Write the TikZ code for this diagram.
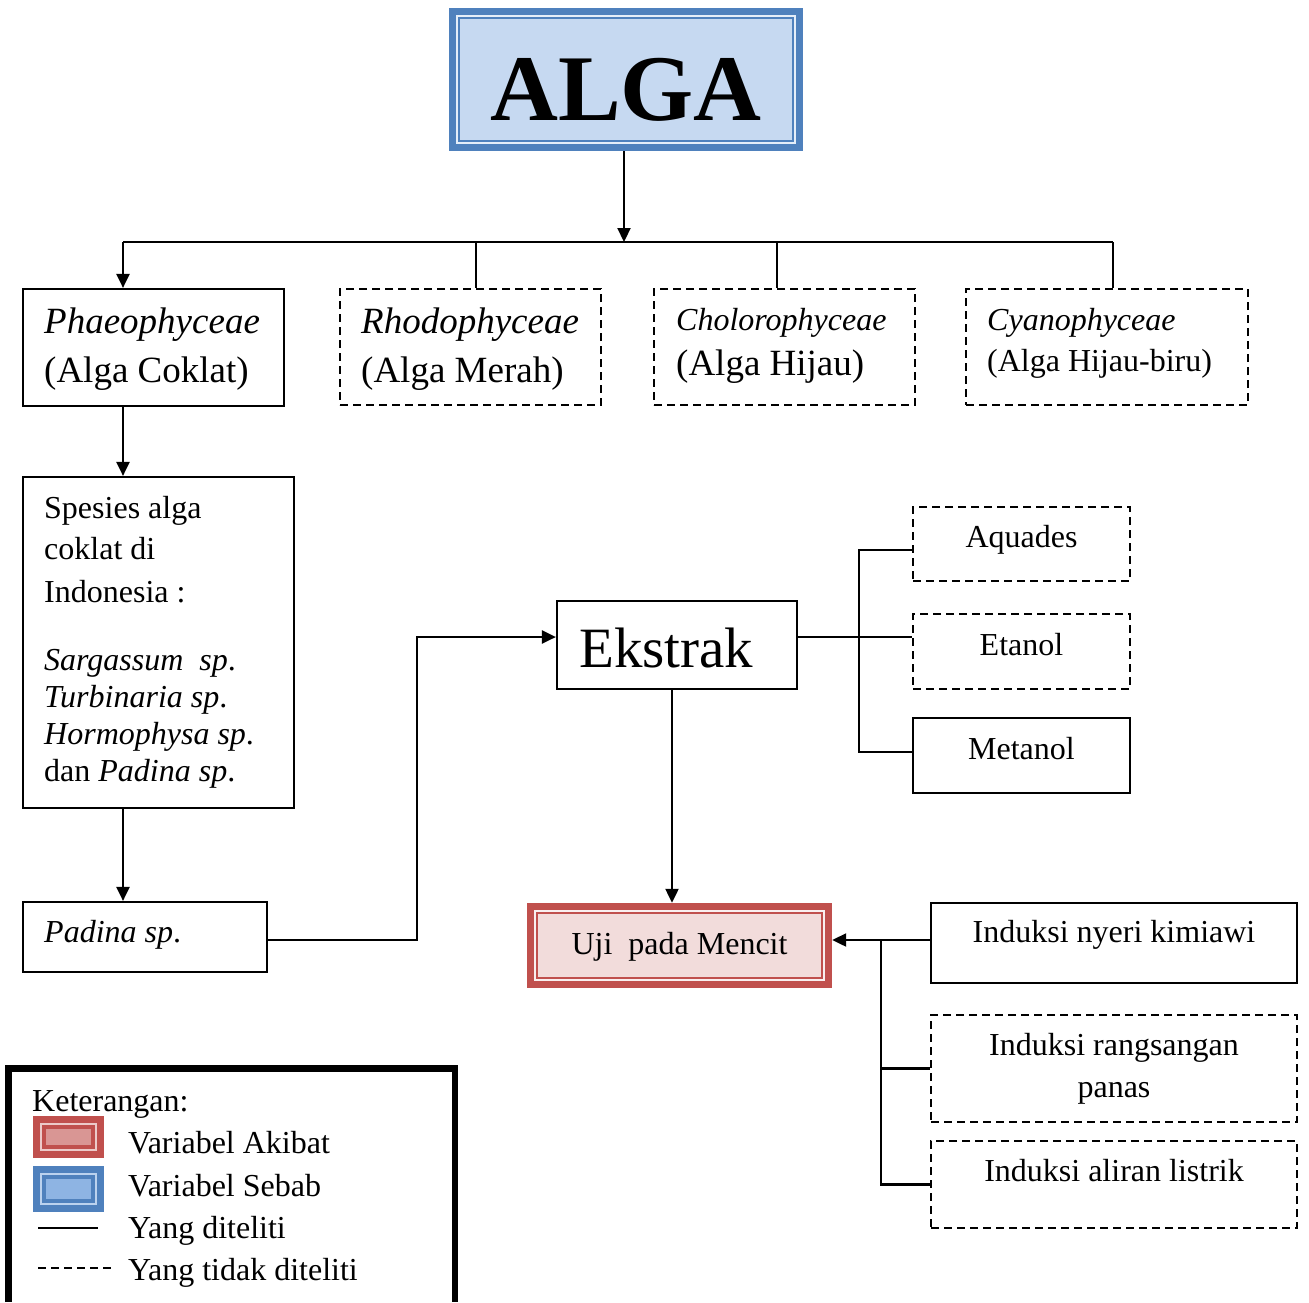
\documentclass[tikz,border=0pt]{standalone}
\usepackage{fontspec}
\setmainfont{Liberation Serif}
\usetikzlibrary{arrows.meta,calc}
\definecolor{bblue}{HTML}{4F81BD}
\definecolor{bfill}{HTML}{C6D9F1}
\definecolor{bswatch}{HTML}{8EB4E3}
\definecolor{rred}{HTML}{C0504D}
\definecolor{rfill}{HTML}{F2DCDB}
\definecolor{rswatch}{HTML}{D99694}
\newcommand\szA{\fontsize{37}{44}\selectfont}
\newcommand\szB{\fontsize{32}{38}\selectfont}
\newcommand\szE{\fontsize{57}{66}\selectfont}
\newcommand\szG{\fontsize{94}{110}\selectfont}
\tikzset{
  solidbox/.style={draw=black, line width=2.2pt, inner sep=0pt, fill=white},
  dashbox/.style={draw=black, line width=2.2pt, dash pattern=on 8pt off 5pt, inner sep=0pt, fill=white},
  conn/.style={line width=2.2pt},
  arr/.style={line width=2.2pt, -{Triangle[length=14pt,width=13pt]}},
  txt/.style={inner sep=0pt, anchor=base west},
  ctxt/.style={inner sep=0pt, anchor=base},
}
\begin{document}
\begin{tikzpicture}[x=1pt,y=-1pt]
\useasboundingbox (0,0) rectangle (1309,1302);
\fill[white] (0,0) rectangle (1309,1302);

% ---------- ALGA ----------
\node[fill=bblue, inner sep=0pt, minimum width=354, minimum height=143] (alga) at (626,79.5) {};
\fill[bfill] ($(alga.north west)+(7,7)$) rectangle ($(alga.south east)+(-7,-7)$);
\draw[white!55!bfill, line width=1.5pt] ($(alga.north west)+(8,8)$) rectangle ($(alga.south east)+(-8,-8)$);
\draw[bblue, line width=2pt] ($(alga.north west)+(10.5,10.5)$) rectangle ($(alga.south east)+(-10.5,-10.5)$);
\node[ctxt, font=\szG\bfseries] (algatxt) at (626,120) {ALGA};

% ---------- class boxes ----------
\node[solidbox, minimum width=261, minimum height=117] (phaeo) at (153.5,347.5) {};
\node[dashbox, minimum width=261, minimum height=116] (rhodo) at (470.5,347) {};
\node[dashbox, minimum width=261, minimum height=116] (cholo) at (784.5,347) {};
\node[dashbox, minimum width=282, minimum height=116] (cyano) at (1107,347) {};

\node[txt, font=\szA\itshape] (phaeo1) at (44,333) {Phaeophyceae};
\node[txt, font=\szA] (phaeo2) at (44,382) {(Alga Coklat)};
\node[txt, font=\szA\itshape] (rhodo1) at (361,333) {Rhodophyceae};
\node[txt, font=\szA] (rhodo2) at (361,382) {(Alga Merah)};
\node[txt, font=\szB\itshape] (cholo1) at (676,330) {Cholorophyceae};
\node[txt, font=\szA] (cholo2) at (676,375) {(Alga Hijau)};
\node[txt, font=\szB\itshape] (cyano1) at (987,330) {Cyanophyceae};
\node[txt, font=\szB] (cyano2) at (987,371) {(Alga Hijau-biru)};

% ---------- species ----------
\node[solidbox, minimum width=271, minimum height=331] (spesies) at (158.5,642.5) {};
\node[txt, font=\szB] (sp1) at (44,518) {Spesies alga};
\node[txt, font=\szB] (sp2) at (44,559) {coklat di};
\node[txt, font=\szB] (sp3) at (44,602) {Indonesia :};
\node[txt, font=\szB] (sp4) at (44,670) {\textit{Sargassum\ \ sp}.};
\node[txt, font=\szB] (sp5) at (44,707) {\textit{Turbinaria sp}.};
\node[txt, font=\szB] (sp6) at (44,744) {\textit{Hormophysa sp}.};
\node[txt, font=\szB] (sp7) at (44,781) {dan \textit{Padina sp}.};

\node[solidbox, minimum width=244, minimum height=70] (padina) at (145,937) {};
\node[txt, font=\szB] (padinatxt) at (44,942) {\textit{Padina sp}.};

% ---------- Ekstrak ----------
\node[solidbox, minimum width=240, minimum height=88] (ekstrak) at (677,645) {};
\node[txt, font=\szE] (ekstraktxt) at (579,667) {Ekstrak};

\node[dashbox, minimum width=217, minimum height=74] (aquades) at (1021.5,544) {};
\node[dashbox, minimum width=217, minimum height=75] (etanol) at (1021.5,651.5) {};
\node[solidbox, minimum width=217, minimum height=75] (metanol) at (1021.5,755.5) {};
\node[ctxt, font=\szB] (aqtxt) at (1021.5,547) {Aquades};
\node[ctxt, font=\szB] (ettxt) at (1021.5,655) {Etanol};
\node[ctxt, font=\szB] (metxt) at (1021.5,759) {Metanol};

% ---------- Uji ----------
\node[fill=rred, inner sep=0pt, minimum width=305, minimum height=85] (uji) at (679.5,945.5) {};
\fill[rfill] ($(uji.north west)+(7,7)$) rectangle ($(uji.south east)+(-7,-7)$);
\draw[white!55!rfill, line width=1.5pt] ($(uji.north west)+(8,8)$) rectangle ($(uji.south east)+(-8,-8)$);
\draw[rred, line width=2pt] ($(uji.north west)+(10.5,10.5)$) rectangle ($(uji.south east)+(-10.5,-10.5)$);
\node[ctxt, font=\szB] (ujitxt) at (679.5,954) {Uji\ \ pada Mencit};

% ---------- Induksi ----------
\node[solidbox, minimum width=366, minimum height=80] (nyeri) at (1114,943) {};
\node[dashbox, minimum width=366, minimum height=107] (panas) at (1114,1068.5) {};
\node[dashbox, minimum width=366, minimum height=87] (listrik) at (1114,1184.5) {};
\node[ctxt, font=\szB] (nyeritxt) at (1114,942) {Induksi nyeri kimiawi};
\node[ctxt, font=\szB] (panas1) at (1114,1055) {Induksi rangsangan};
\node[ctxt, font=\szB] (panas2) at (1114,1097) {panas};
\node[ctxt, font=\szB] (listriktxt) at (1114,1181) {Induksi aliran listrik};

% ---------- connectors ----------
\coordinate (busL) at (123,242);
\coordinate (busR) at (1113,242);
\coordinate (jR) at (476,242);
\coordinate (jC) at (777,242);
\draw[conn] (busL) -- (busR);
\draw[arr] ([xshift=-2pt]alga.south) -- ([xshift=-2pt]alga.south |- busL);
\draw[arr] (busL) -- (busL |- phaeo.north);
\draw[conn] (jR) -- (jR |- rhodo.north);
\draw[conn] (jC) -- (jC |- cholo.north);
\draw[conn] (busR) -- (busR |- cyano.north);
\draw[arr] (busL |- phaeo.south) -- (busL |- spesies.north);
\draw[arr] (busL |- spesies.south) -- (busL |- padina.north);

\coordinate (pOut) at ([yshift=-3pt]padina.east);
\coordinate (eIn) at ([yshift=8pt]ekstrak.west);
\coordinate (elb) at (417,0);
\draw[arr] (pOut) -- (pOut -| elb) -- (elb |- eIn) -- (eIn);

\coordinate (eOut) at ([yshift=8pt]ekstrak.east);
\coordinate (bx) at (859,0);
\coordinate (aqIn) at ([yshift=-6pt]aquades.west);
\coordinate (meIn) at ([yshift=3.5pt]metanol.west);
\draw[conn] (eOut) -- (eOut -| etanol.west);
\draw[conn] (aqIn) -- (aqIn -| bx) -- (meIn -| bx) -- (meIn);

\coordinate (ekDown) at ([xshift=-5pt]ekstrak.south);
\draw[arr] (ekDown) -- (ekDown |- uji.north);

\coordinate (nyOut) at ([yshift=3pt]nyeri.west);
\coordinate (by) at (881,0);
\draw[arr] (nyOut) -- (nyOut -| uji.east);
\draw[conn] (nyOut -| by) -- (listrik.west -| by) -- (listrik.west);
\draw[conn] (panas.west -| by) -- (panas.west);

% ---------- legend ----------
\draw[line width=6.5pt] (8.5,1302) -- (8.5,1068.5) -- (455,1068.5) -- (455,1302);
\node[txt, font=\szB] (ket) at (32,1111) {Keterangan:};
\fill[rred] (33,1116) rectangle (104,1158);
\draw[white!50!rswatch, line width=2pt] (41,1124) rectangle (96,1150);
\fill[rswatch] (46,1129) rectangle (91,1145);
\fill[bblue] (33,1166) rectangle (104,1212);
\draw[white!40!bswatch, line width=2pt] (41,1174) rectangle (96,1204);
\fill[bswatch] (46,1179) rectangle (91,1199);
\coordinate (ls1) at (38,1228);
\coordinate (le1) at (98,1228);
\draw[line width=2pt] (ls1) -- (le1);
\coordinate (ls2) at (38,1268);
\coordinate (le2) at (114,1268);
\draw[line width=2pt, dash pattern=on 8pt off 5pt] (ls2) -- (le2);
\node[txt, font=\szB] (lg1) at (128,1153) {Variabel Akibat};
\node[txt, font=\szB] (lg2) at (128,1196) {Variabel Sebab};
\node[txt, font=\szB] (lg3) at (128,1238) {Yang diteliti};
\node[txt, font=\szB] (lg4) at (128,1280) {Yang tidak diteliti};
\end{tikzpicture}
\end{document}
